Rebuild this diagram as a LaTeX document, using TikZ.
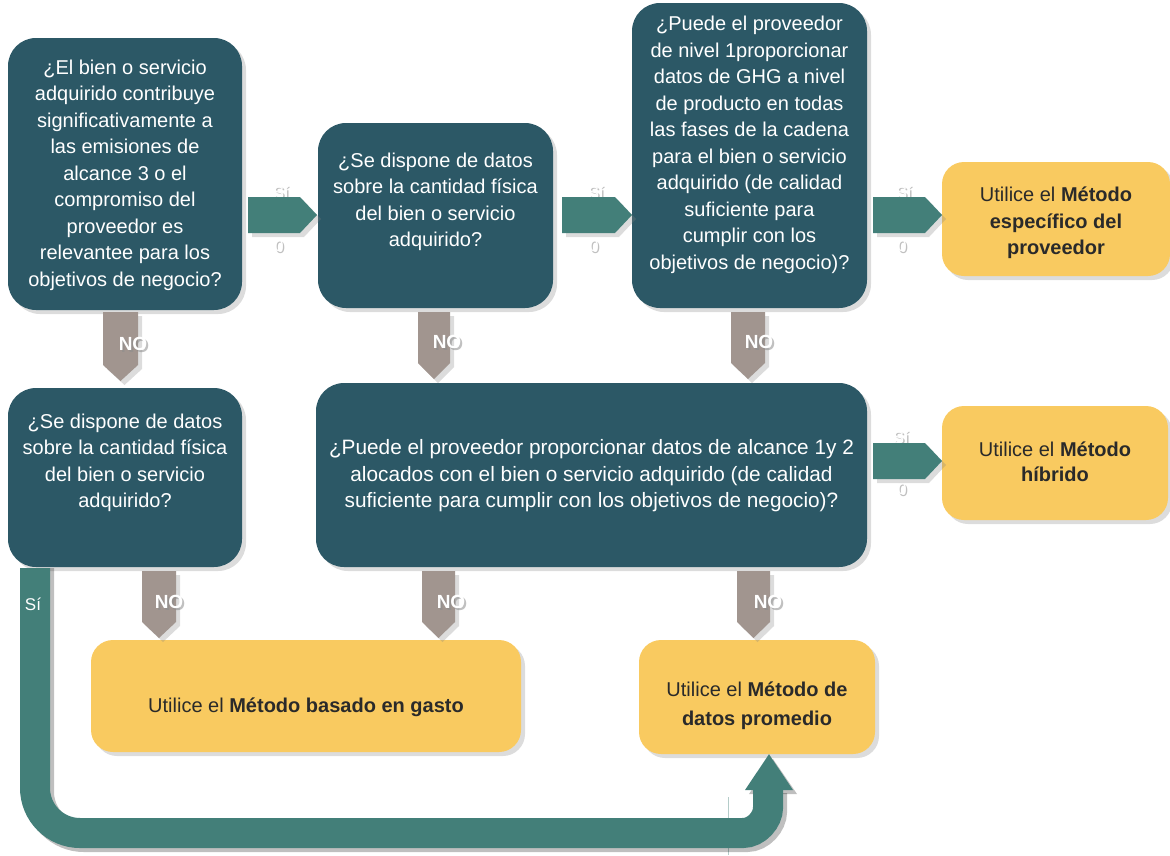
\documentclass[tikz,border=0pt]{standalone}
\usepackage{fontspec}
\setmainfont{Liberation Sans}
\usetikzlibrary{shadows,calc}
\definecolor{darkB}{HTML}{2C5866}
\definecolor{tealA}{HTML}{437F79}
\definecolor{yellowC}{HTML}{F9CA60}
\definecolor{greyD}{HTML}{A1958F}
\definecolor{textD}{HTML}{2A2A2A}
\tikzset{
  shad/.style={drop shadow={opacity=0.28,shadow xshift=4pt,shadow yshift=-4pt}},
  qbox/.style={fill=darkB,rounded corners=28pt,shad,inner sep=0pt},
  abox/.style={fill=yellowC,rounded corners=22pt,shad,inner sep=0pt},
  qtext/.style={text=white,align=center,font=\fontsize{20}{26.5}\selectfont,inner sep=0pt},
  atext/.style={text=textD,align=center,font=\fontsize{20}{29}\selectfont,inner sep=0pt},
  rarrow/.style={fill=tealA,shad},
  darrow/.style={fill=greyD,shad},
  nolab/.style={text=white,font=\fontsize{19}{22}\selectfont\bfseries,inner sep=0pt},
  silab/.style={text=white,font=\fontsize{16.5}{18}\selectfont,inner sep=0pt},
  labshadow/.style={text=black!45,opacity=0.55},
}
\newcommand\rarr[3]{\fill[rarrow] (#1,#3-18) -- (#2-17,#3-18) -- (#2,#3) -- (#2-17,#3+18) -- (#1,#3+18) -- cycle;}
\newcommand\darr[4]{\fill[darrow] (#1,#3) -- (#2,#3) -- (#2,#4-16) -- ({(#1+#2)/2},#4) -- (#1,#4-16) -- cycle;}
\newcommand\silbl[2]{\node[silab,labshadow] at (#1+1.5,#2+1.5) {Sí};\node[silab] at (#1,#2) {Sí};}
\newcommand\zerolbl[2]{\node[silab,labshadow] at (#1+1.5,#2+1.5) {0};\node[silab] at (#1,#2) {0};}
\newcommand\nolbl[3]{\node[nolab,labshadow] at (#2+2,#3+2) {NO};\node[nolab] (#1) at (#2,#3) {NO};}
\begin{document}
\begin{tikzpicture}[x=1pt,y=-1pt]
\useasboundingbox (0,0) rectangle (1170,855);
% boxes
\node[qbox,minimum width=234pt,minimum height=272pt] (b1) at (125,174) {};
\node[qbox,minimum width=235pt,minimum height=185pt] (b2) at (435.5,215.5) {};
\node[qbox,minimum width=235pt,minimum height=305pt] (b3) at (749.5,155.5) {};
\node[abox,minimum width=228pt,minimum height=114pt] (b4) at (1056,219) {};
\node[qbox,minimum width=234pt,minimum height=179pt] (b5) at (125,477.5) {};
\node[qbox,minimum width=551pt,minimum height=184pt] (b6) at (591.5,475) {};
\node[abox,minimum width=226pt,minimum height=114pt] (b7) at (1055,463) {};
\node[abox,minimum width=430pt,minimum height=112pt] (b8) at (306,696) {};
\node[abox,minimum width=236pt,minimum height=114pt] (b9) at (757,697) {};
% texts
\node[qtext] (t1) at (b1.center|-0,175) {¿El bien o servicio\\adquirido contribuye\\significativamente a\\las emisiones de\\alcance 3 o el\\compromiso del\\proveedor es\\relevantee para los\\objetivos de negocio?};
\node[qtext] (t2) at (b2.center|-0,202) {¿Se dispone de datos\\sobre la cantidad física\\del bien o servicio\\adquirido?};
\node[qtext] (t3) at (b3.center|-0,145) {¿Puede el proveedor\\de nivel 1proporcionar\\datos de GHG a nivel\\de producto en todas\\las fases de la cadena\\para el bien o servicio\\adquirido (de calidad\\suficiente para\\cumplir con los\\objetivos de negocio)?};
\node[atext,font=\fontsize{20}{26.5}\selectfont] (t4) at (b4.center|-0,223) {Utilice el \textbf{Método}\\\textbf{específico del}\\\textbf{proveedor}};
\node[qtext] (t5) at (b5.center|-0,463) {¿Se dispone de datos\\sobre la cantidad física\\del bien o servicio\\adquirido?};
\node[qtext,font=\fontsize{20.8}{26.5}\selectfont] (t6) at (b6.center|-0,476) {¿Puede el proveedor proporcionar datos de alcance 1y 2\\alocados con el bien o servicio adquirido (de calidad\\suficiente para cumplir con los objetivos de negocio)?};
\node[atext,font=\fontsize{20}{25}\selectfont] (t7) at (b7.center|-0,462) {Utilice el \textbf{Método}\\\textbf{híbrido}};
\node[atext] (t8) at (b8.center|-0,707) {Utilice el \textbf{Método basado en gasto}};
\node[atext] (t9) at (b9.center|-0,706) {Utilice el \textbf{Método de}\\\textbf{datos promedio}};
% right arrows (Sí)
\silbl{281}{192}\zerolbl{279}{246}
\silbl{596}{192}\zerolbl{594}{246}
\silbl{904}{192}\zerolbl{902}{246}
\silbl{901}{437}\zerolbl{902}{489}
\rarr{248}{317}{215}
\rarr{562}{632}{215}
\rarr{873}{942}{215}
\rarr{873}{942}{461}
% down arrows (NO)
\darr{103}{138}{312}{381}
\darr{418}{450}{312}{379}
\darr{731}{765}{312}{379}
\darr{142}{176}{571}{638}
\darr{422}{455}{571}{638}
\darr{737}{770}{571}{638}
\nolbl{n1}{133}{344}
\nolbl{n2}{447}{342}
\nolbl{n3}{759}{342}
\nolbl{n4}{169}{602}
\nolbl{n5}{451}{602}
\nolbl{n6}{768}{602}
% big U arrow from b5 to b9
\draw[tealA!40,line width=0.7pt] (728,797) -- (728,855);
\begin{scope}[xshift=4pt,yshift=-4pt,opacity=0.25]
\draw[black,line width=30pt] (b5.south west-|35,0) ++(0,1) -- (35,788) .. controls (35,812.75) and (55.25,833) .. (80,833) -- (743,833) .. controls (756.75,833) and (768,819.25) .. (768,808) -- (768,789);
\fill[black] (745,790) -- (769,755) -- (793,790) -- cycle;
\end{scope}
\draw[tealA,line width=30pt] (b5.south west-|35,0) ++(0,1) -- (35,788) .. controls (35,812.75) and (55.25,833) .. (80,833) -- (743,833) .. controls (756.75,833) and (768,819.25) .. (768,808) -- (768,789);
\coordinate (utip) at (b9.south-|769,0);
\fill[tealA] (745,790) -- (utip) -- (793,790) -- cycle;
\node[silab,font=\fontsize{17}{19}\selectfont] (s5) at (33,604) {Sí};
\end{tikzpicture}
\end{document}
